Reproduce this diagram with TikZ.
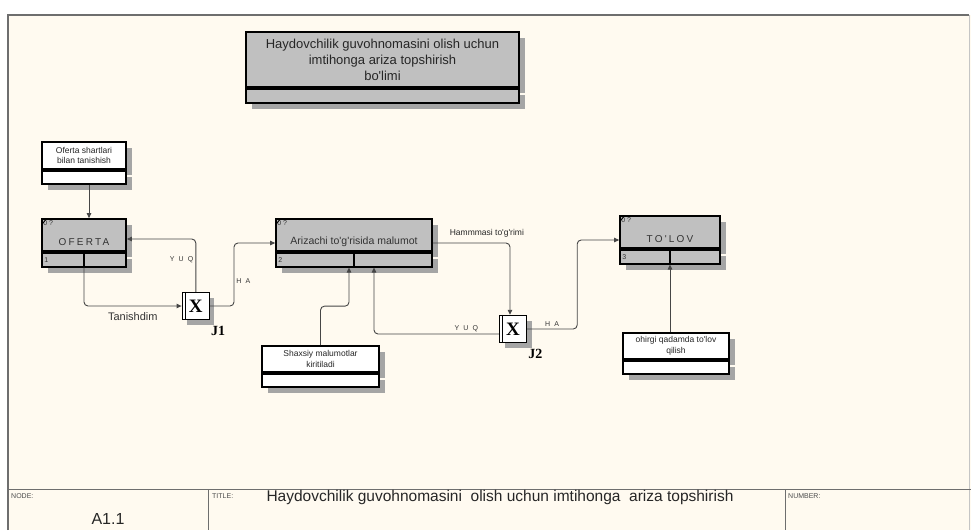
\documentclass[tikz,border=0pt]{standalone}
\usepackage{fontspec}
\setmainfont{Liberation Sans}[Ligatures=TeXOff]
\newfontfamily\jfont{Liberation Serif}
\usetikzlibrary{arrows.meta,positioning,shadows}
\definecolor{paper}{RGB}{255,250,240}
\definecolor{boxgray}{RGB}{192,192,192}
\definecolor{shadowgray}{RGB}{165,165,165}
\definecolor{wire}{RGB}{70,70,70}
\definecolor{rimgray}{RGB}{110,110,110}

\begin{document}
\begin{tikzpicture}[x=1pt,y=-1pt,
  act/.style={draw,line width=1.7pt,fill=boxgray,inner sep=0pt,
    general shadow={fill=shadowgray,shadow xshift=6pt,shadow yshift=-6pt}},
  refbox/.style={act,fill=white},
  uobbar/.style={act,minimum height=14pt},
  refbar/.style={uobbar,fill=white,minimum height=13pt},
  uobtext/.style={font=\fontsize{10}{12}\selectfont\addfontfeature{LetterSpace=22},text=black!80},
  idlab/.style={anchor=north west,inner sep=2pt,font=\fontsize{7}{8}\selectfont,text=black!80},
  numlab/.style={anchor=west,inner sep=3pt,font=\fontsize{7}{8}\selectfont,text=black!80},
  note/.style={font=\fontsize{8.5}{10.5}\selectfont,align=center,text=black!85},
  junc/.style={draw,line width=1.4pt,fill=white,minimum width=27pt,minimum height=27pt,inner sep=0pt,
    font=\jfont\fontsize{19}{19}\selectfont\bfseries,
    general shadow={fill=shadowgray,shadow xshift=5pt,shadow yshift=-5pt}},
  jlab/.style={anchor=north west,inner sep=0pt,font=\jfont\fontsize{14}{14}\selectfont\bfseries},
  link/.style={draw=wire,line width=0.9pt,rounded corners=4pt,-{Triangle[length=5pt,width=4.5pt]}},
  tag/.style={font=\fontsize{7}{8}\selectfont\addfontfeature{LetterSpace=60},text=black!80,inner sep=2pt},
  key/.style={anchor=north west,inner sep=0pt,font=\fontsize{7}{8}\selectfont,text=black!70}
]
  % sheet and frame
  \useasboundingbox (0,0) rectangle (971,530);
  \fill[white] (0,0) rectangle (971,530);
  \fill[paper] (8,15) rectangle (971,530);
  \draw[rimgray!40,line width=1pt] (969,15) -- (969,530);
  \draw[rimgray,line width=1.6pt] (8,530) -- (8,15) -- (969,15);
  \draw[rimgray,line width=1pt] (8,489) -- (971,489) (208,489) -- (208,530) (785,489) -- (785,530);

  % department box
  \node[act,minimum width=273pt,minimum height=55pt,align=center,
    font=\fontsize{13}{16}\selectfont,text=black!85] (dept) at (382.5,59.5)
    {Haydovchilik guvohnomasini olish uchun\\imtihonga ariza topshirish\\bo'limi};
  \node[uobbar,minimum width=273pt,below=0pt of dept] (deptBar) {};

  % referents
  \node[refbox,note,minimum width=84pt,minimum height=27pt] (shartlar) at (84,155.5) {Oferta shartlari\\bilan tanishish};
  \node[refbar,minimum width=84pt,below=0pt of shartlar] (shartlarBar) {};
  \node[refbox,note,minimum width=117pt,minimum height=26pt] (shaxsiy) at (320.5,359) {Shaxsiy malumotlar\\kiritiladi};
  \node[refbar,minimum width=117pt,below=0pt of shaxsiy] (shaxsiyBar) {};
  \node[refbox,note,minimum width=106pt,minimum height=26pt] (ohirgi) at (676,346) {ohirgi qadamda to'lov\\qilish};
  \node[refbar,minimum width=106pt,below=0pt of ohirgi] (ohirgiBar) {};

  % units of behaviour
  \node[act,minimum width=84pt,minimum height=32pt,
    label={[uobtext,yshift=-7pt]center:OFERTA},label={[idlab]north west:0 ?}] (oferta) at (84,235) {};
  \node[uobbar,minimum width=84pt,below=0pt of oferta,label={[numlab]west:1}] (ofertaBar) {};
  \node[act,minimum width=156pt,minimum height=32pt,
    label={[uobtext,yshift=-7pt,font=\fontsize{10.5}{12}\selectfont]center:Arizachi to'g'risida malumot},
    label={[idlab]north west:0 ?}] (arizachi) at (354,235) {};
  \node[uobbar,minimum width=156pt,below=0pt of arizachi,label={[numlab]west:2}] (arizachiBar) {};
  \node[act,minimum width=100pt,minimum height=32pt,
    label={[uobtext,yshift=-7pt]center:TO'LOV},label={[idlab]north west:0 ?}] (tolov) at (670,232) {};
  \node[uobbar,minimum width=100pt,below=0pt of tolov,label={[numlab]west:3}] (tolovBar) {};
  \foreach \n in {oferta,arizachi,tolov} {
    \draw[line width=1.7pt] (\n Bar.north) -- (\n Bar.south);
    \draw[line width=0.8pt] ([xshift=1pt,yshift=-6pt]\n.north west) -- ([xshift=5pt,yshift=-1pt]\n.north west);
  }

  % junctions
  \node[junc] (j1) at (195.8,306) {X};
  \node[junc] (j2) at (513,329) {X};
  \foreach \j in {j1,j2}
    \draw[line width=1pt] ([xshift=4pt]\j.north west) -- ([xshift=4pt]\j.south west);
  \node[jlab] (j1lab) at ([xshift=1pt,yshift=-6pt]j1.south east) {J1};
  \node[jlab] (j2lab) at ([xshift=1pt,yshift=-6pt]j2.south east) {J2};

  % links
  \draw[link] ([xshift=5pt]shartlarBar.south) -- ([xshift=5pt]oferta.north);
  \draw[link] (ofertaBar.south) |- node[pos=0.75,below=3pt,font=\fontsize{11}{12}\selectfont,text=black!80] (tanish) {Tanishdim} (j1.west);
  \draw[link] (j1.north) |- node[tag,pos=0.3,left] (yuq1) {YUQ} ([yshift=-4pt]oferta.east);
  \draw[link] (j1.east) -- ++(24,0) |- node[tag,pos=0.2,right] (ha1) {HA} ([yshift=-8pt]arizachi.west);
  \draw[link] (shaxsiy.north) -- ++(0,-39) -| ([xshift=-5pt]arizachiBar.south);
  \draw[link] ([yshift=-5pt]j2.west) -| node[tag,pos=0.13,above] (yuq2) {YUQ} ([xshift=20pt]arizachiBar.south);
  \draw[link] ([yshift=-8pt]arizachi.east) -| node[pos=0.35,above=2pt,font=\fontsize{8.5}{10}\selectfont,text=black!85] (check) {Hammmasi to'g'rimi} ([xshift=-3pt]j2.north);
  \draw[link] (j2.east) -- node[tag,above] (ha2) {HA} ++(50,0) |- ([yshift=-8pt]tolov.west);
  \draw[link] (tolovBar.south |- ohirgi.north) -- (tolovBar.south);

  % title block
  \node[key] (nodeKey) at (11,493) {NODE:};
  \node[font=\fontsize{16}{18}\selectfont,text=black!85] (nodeVal) at (108,519) {A1.1};
  \node[key] (titleKey) at (212,493) {TITLE:};
  \node[anchor=west,font=\fontsize{15.5}{18}\selectfont,text=black!85] (titleVal) at (263,497)
    {Haydovchilik guvohnomasini~ olish uchun imtihonga~ ariza topshirish};
  \node[key] (numKey) at (788,493) {NUMBER:};
\end{tikzpicture}
\end{document}
